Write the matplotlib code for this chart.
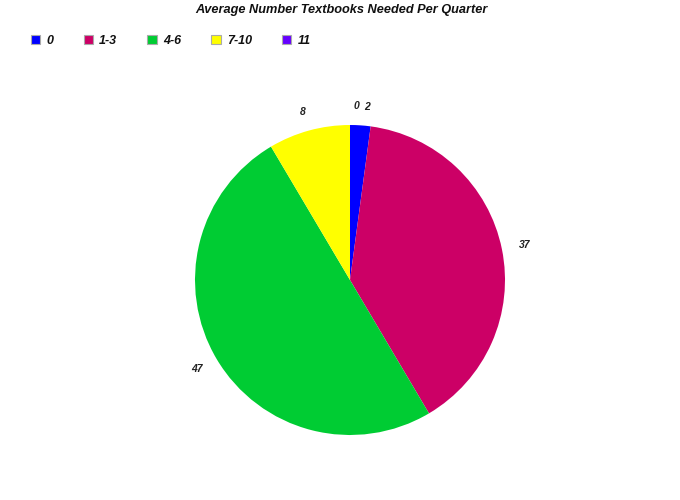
import matplotlib
matplotlib.use("Agg")
import matplotlib.pyplot as plt
from matplotlib.patches import Patch

categories = ["0", "1-3", "4-6", "7-10", "11"]
values = [2, 37, 47, 8, 0]
colors = ["#0000FF", "#CC0066", "#00CC33", "#FFFF00", "#6600FF"]
title = "Average Number Textbooks Needed Per Quarter"

plt.rcParams['font.family'] = ['Liberation Sans', 'DejaVu Sans']

W, H = 680, 500
fig = plt.figure(figsize=(W/100, H/100), dpi=100)
cx, cy, r = 350, 280, 155
ax = fig.add_axes([(cx - r)/W, (H - cy - r)/H, 2*r/W, 2*r/H])
wedges, texts = ax.pie(values, colors=colors, startangle=90, counterclock=False,
                       labels=[str(v) for v in values], labeldistance=1.15,
                       radius=1.0, wedgeprops=dict(linewidth=0))
px = 1.0 / r  # one pixel in data units
for i, (t, v) in enumerate(zip(texts, values)):
    t.set_ha('center')
    t.set_va('center')
    t.set_fontsize(7.5)
    t.set_fontstyle('italic')
    t.set_fontweight('bold')
    t.set_color('#222222')
    x, y = t.get_position()
    y *= 0.975
    if v == 0:
        x += 6 * px
    elif i == 0:
        x += 5 * px
    t.set_position((x, y))
ax.set_xlim(-1, 1)
ax.set_ylim(-1, 1)
ax.set_aspect('equal')
ax.axis('off')

fig.text(341/W, 1 - 9.5/H, title, ha='center', va='center', fontsize=9.2,
         fontstyle='italic', fontweight='bold', color='#111111')

handles = [Patch(facecolor=c, edgecolor='#AAAAAA', linewidth=0.8) for c in colors]
leg = fig.legend(handles, categories, loc='upper left', bbox_to_anchor=(31/W, 1 - 34.5/H),
                 ncol=5, frameon=False, borderpad=0, borderaxespad=0,
                 handlelength=0.75, handleheight=0.75, handletextpad=0.5,
                 columnspacing=2.4,
                 prop=dict(family='Liberation Sans', size=9, style='italic', weight='bold'))
for t in leg.get_texts():
    t.set_color('#111111')

fig.savefig("out.png", dpi=100)
